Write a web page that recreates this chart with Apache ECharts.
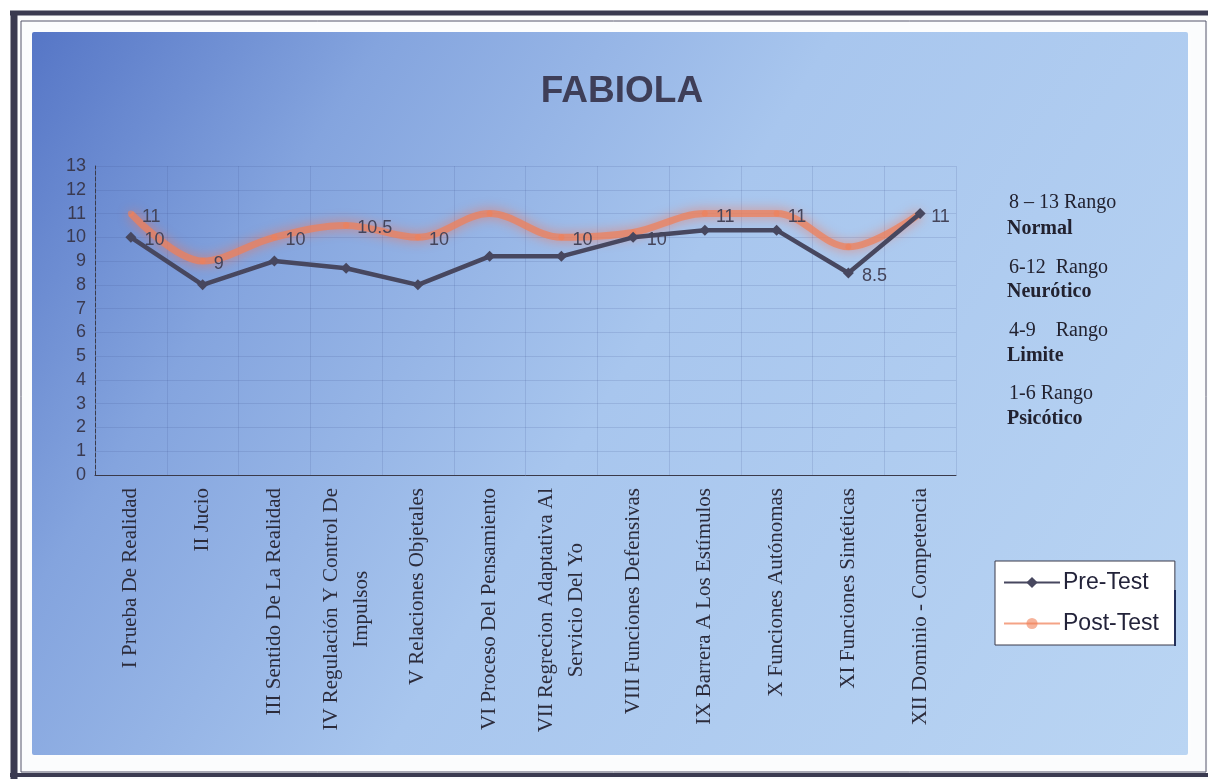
<!DOCTYPE html>
<html>
<head>
<meta charset="utf-8">
<title>FABIOLA</title>
<script src="https://cdn.jsdelivr.net/npm/echarts@6/dist/echarts.min.js"></script>
<style>
  html, body { margin: 0; padding: 0; background: #ffffff; }
  #chart { width: 1208px; height: 779px; }
</style>
</head>
<body>
<div id="chart"></div>
<script>
// Ego-function scales (Bellak), one category per function
const categories = [
  'I Prueba De Realidad',
  'II Jucio',
  'III Sentido De La Realidad',
  'IV Regulación Y Control De\nImpulsos',
  'V Relaciones Objetales',
  'VI Proceso Del Pensamiento',
  'VII Regrecion Adaptativa Al\nServicio Del Yo',
  'VIII Funciones Defensivas',
  'IX Barrera A Los Estímulos',
  'X Funciones Autónomas',
  'XI Funciones Sintéticas',
  'XII Dominio - Competencia'
];

// Scores before and after the intervention
const preTest  = [10, 8, 9, 8.7, 8, 9.2, 9.2, 10, 10.3, 10.3, 8.5, 11];
const postTest = [11, 9, 10, 10.5, 10, 11, 10, 10.2, 11, 11, 9.6, 11];

// Points whose score is printed next to the line
const preLabeled  = [0, 7, 10];
const postLabeled = [0, 1, 2, 3, 4, 6, 8, 9, 11];

// Y axis range and step
const yMin = 0;
const yMax = 13;
const yStep = 1;

// Reference ranges listed beside the chart
const rangeNotes = [
  ['8 – 13 Rango', 'Normal'],
  ['6-12  Rango', 'Neurótico'],
  ['4-9    Rango', 'Limite'],
  ['1-6 Rango', 'Psicótico']
];

const seriesNames = ['Pre-Test', 'Post-Test'];

const chart = echarts.init(document.getElementById('chart'), null, { renderer: 'canvas' });

const valueLabel = {
  show: true,
  position: 'right',
  distance: 8,
  offset: [0, 3],
  fontFamily: 'Arial, "Liberation Sans", sans-serif',
  fontSize: 18,
  color: '#44445a'
};

function withLabels(values, labeled) {
  return values.map((v, i) => ({
    value: v,
    label: labeled.indexOf(i) >= 0 ? valueLabel : { show: false }
  }));
}

// Side notes drawn as plain text
const noteRows = [];
const noteY = [[204, 230], [269, 293], [332, 357], [395, 420]];
rangeNotes.forEach((pair, i) => {
  noteRows.push({
    type: 'text', left: 1009, top: noteY[i][0] - 11, z: 5,
    style: { text: pair[0], font: '20px "Liberation Serif", "Times New Roman", serif', fill: '#222230' }
  });
  noteRows.push({
    type: 'text', left: 1007, top: noteY[i][1] - 11, z: 5,
    style: { text: pair[1], font: 'bold 20px "Liberation Serif", "Times New Roman", serif', fill: '#222230' }
  });
});

const option = {
  backgroundColor: '#ffffff',
  animation: false,
  title: {
    text: 'FABIOLA',
    left: 617,
    top: 68,
    textAlign: 'center',
    textStyle: {
      fontFamily: 'Arial, "Liberation Sans", sans-serif',
      fontWeight: 'bold',
      fontSize: 37,
      color: '#3e3e58'
    }
  },
  graphic: [
    // outer frame
    { type: 'rect', z: -20, shape: { x: 10, y: 10, width: 1198, height: 769 },
      style: { fill: '#fbfcfd', stroke: null } },
    { type: 'line', z: -19, shape: { x1: 10, y1: 13, x2: 1208, y2: 13 },
      style: { stroke: '#3a3a50', lineWidth: 5 } },
    { type: 'line', z: -19, shape: { x1: 14, y1: 12, x2: 14, y2: 779 },
      style: { stroke: '#3a3a50', lineWidth: 7 } },
    { type: 'line', z: -19, shape: { x1: 10, y1: 775, x2: 1208, y2: 775 },
      style: { stroke: '#3a3a50', lineWidth: 4 } },
    { type: 'rect', z: -19, shape: { x: 21, y: 21, width: 1185, height: 751 },
      style: { fill: null, stroke: '#55556a', lineWidth: 1 } },
    // blue chart panel
    { type: 'rect', z: -18, shape: { x: 32, y: 32, width: 1156, height: 723, r: 2 },
      style: {
        fill: new echarts.graphic.LinearGradient(0, 0, 1, 1, [
          { offset: 0, color: '#5676c6' },
          { offset: 0.22, color: '#84a4de' },
          { offset: 0.5, color: '#a8c6ee' },
          { offset: 1, color: '#bad5f3' }
        ]),
        shadowBlur: 6,
        shadowColor: 'rgba(255,255,255,0.8)'
      } },
    // legend frame accent
    { type: 'line', z: 6, shape: { x1: 1175, y1: 590, x2: 1175, y2: 646 },
      style: { stroke: '#23305a', lineWidth: 2 } }
  ].concat(noteRows),
  legend: {
    data: seriesNames,
    orient: 'vertical',
    left: 995,
    top: 561,
    padding: [10, 16, 10, 8],
    itemGap: 18,
    itemWidth: 56,
    itemHeight: 14,
    backgroundColor: '#ffffff',
    borderColor: '#3a3a4a',
    borderWidth: 1,
    textStyle: {
      fontFamily: 'Arial, "Liberation Sans", sans-serif',
      fontSize: 23,
      color: '#23233a',
      padding: [0, 0, 0, -2]
    }
  },
  grid: {
    left: 95,
    right: 252,
    top: 166,
    bottom: 304,
    containLabel: false
  },
  xAxis: {
    type: 'category',
    data: categories,
    boundaryGap: true,
    axisLine: { show: true, lineStyle: { color: '#3a3a4a', width: 1 } },
    axisTick: { show: false },
    splitLine: { show: true, lineStyle: { color: 'rgba(60,80,140,0.16)', width: 1 } },
    axisLabel: {
      rotate: 90,
      interval: 0,
      margin: 13,
      formatter: function (v) {
        return v.split('\n').map(s => '{c|' + s + '}').join('\n');
      },
      rich: {
        c: {
          align: 'center',
          fontFamily: '"Liberation Serif", "Times New Roman", serif',
          fontSize: 21,
          lineHeight: 30,
          color: '#2c2c3c'
        }
      }
    }
  },
  yAxis: {
    type: 'value',
    min: yMin,
    max: yMax,
    interval: yStep,
    axisLine: { show: true, lineStyle: { color: '#3a3a4a', width: 1, type: 'dashed' } },
    axisTick: { show: false },
    splitLine: { show: true, lineStyle: { color: 'rgba(60,80,140,0.16)', width: 1 } },
    axisLabel: {
      margin: 9,
      fontFamily: 'Arial, "Liberation Sans", sans-serif',
      fontSize: 18,
      color: '#3a3a50'
    }
  },
  series: [
    {
      name: seriesNames[1],
      type: 'line',
      data: withLabels(postTest, postLabeled),
      smooth: 0.35,
      symbol: 'circle',
      symbolSize: 6,
      z: 3,
      lineStyle: {
        color: 'rgba(240,128,88,0.72)',
        width: 7,
        shadowBlur: 12,
        shadowColor: 'rgba(255,110,70,0.9)'
      },
      itemStyle: { color: 'rgba(240,128,88,0.6)' }
    },
    {
      name: seriesNames[0],
      type: 'line',
      data: withLabels(preTest, preLabeled),
      symbol: 'diamond',
      symbolSize: 11,
      z: 4,
      lineStyle: { color: '#47475f', width: 4.5 },
      itemStyle: { color: '#47475f' }
    }
  ]
};

chart.setOption(option);
</script>
</body>
</html>
